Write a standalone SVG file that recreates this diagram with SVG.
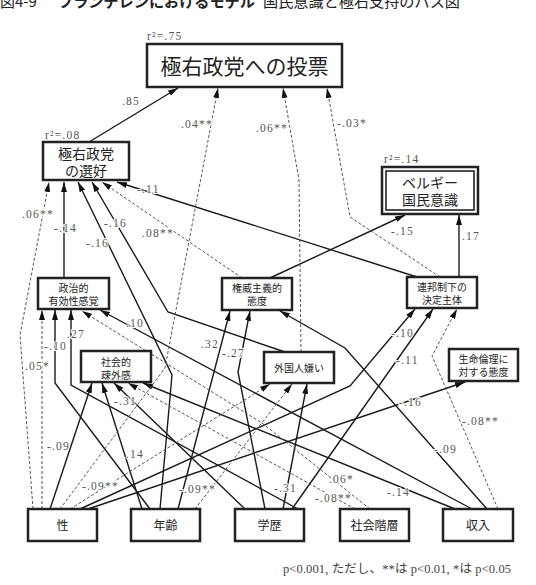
<svg xmlns="http://www.w3.org/2000/svg" width="536" height="585" viewBox="0 0 536 585">
<style>
.bx{fill:#fff;stroke:#222;stroke-width:2.5}
.bi{fill:none;stroke:#222;stroke-width:1.6}
.t{font-family:"Noto Sans CJK JP","Noto Sans",sans-serif;fill:#222;text-anchor:middle}
.s{fill:none;stroke:#1a1a1a;stroke-width:1.4}
.d{fill:none;stroke:#555;stroke-width:1;stroke-dasharray:3 2}
.l{font-family:"Liberation Serif",serif;font-size:11.5px;fill:#555;letter-spacing:1.2px;paint-order:stroke;stroke:#fff;stroke-width:2px}
.r{font-family:"Liberation Serif",serif;font-size:11.5px;fill:#555;letter-spacing:1.2px}
</style>
<defs>
<marker id="ah" viewBox="0 0 10 6" refX="10" refY="3" markerWidth="10" markerHeight="6" markerUnits="userSpaceOnUse" orient="auto"><path d="M0,0 L10,3 L0,6 z" fill="#111"/></marker>
</defs>
<rect width="536" height="585" fill="#fff"/>
<text y="7" font-family="'Noto Sans CJK JP',sans-serif" font-size="15" fill="#222"><tspan x="0">図4-9</tspan><tspan x="58" font-weight="bold" textLength="197" lengthAdjust="spacingAndGlyphs">フランデレンにおけるモデル</tspan><tspan x="263" textLength="197" lengthAdjust="spacingAndGlyphs">国民意識と極右支持のパス図</tspan></text>

<g id="connectors">
<polyline class="s" points="89,142 178,88" marker-end="url(#ah)"/>
<polyline class="s" points="64,278 64,182" marker-end="url(#ah)"/>
<polyline class="s" points="160,509 172,375 78,182" marker-end="url(#ah)"/>
<polyline class="s" points="285,352 168,312 92,182" marker-end="url(#ah)"/>
<polyline class="s" points="417,277 117,182" marker-end="url(#ah)"/>
<polyline class="s" points="270,278 405,215" marker-end="url(#ah)"/>
<polyline class="s" points="459,277 459,215" marker-end="url(#ah)"/>
<polyline class="s" points="150,509 55,383 55,310" marker-end="url(#ah)"/>
<polyline class="s" points="298,509 71,385 71,310" marker-end="url(#ah)"/>
<polyline class="s" points="472,509 100,310" marker-end="url(#ah)"/>
<polyline class="s" points="50,509 92,383" marker-end="url(#ah)"/>
<polyline class="s" points="142,509 102,383" marker-end="url(#ah)"/>
<polyline class="s" points="245,509 114,383" marker-end="url(#ah)"/>
<polyline class="s" points="455,509 143,383" marker-end="url(#ah)"/>
<polyline class="s" points="178,509 230,311" marker-end="url(#ah)"/>
<polyline class="s" points="265,509 238,372 250,311" marker-end="url(#ah)"/>
<polyline class="s" points="487,509 345,348 280,311" marker-end="url(#ah)"/>
<polyline class="s" points="283,509 307,384" marker-end="url(#ah)"/>
<polyline class="s" points="80,509 350,386 415,309" marker-end="url(#ah)"/>
<polyline class="s" points="292,509 433,309" marker-end="url(#ah)"/>
<polyline class="s" points="88,509 465,382" marker-end="url(#ah)"/>
<polyline class="d" points="60,509 165,368 218,88" marker-end="url(#ah)"/>
<polyline class="d" points="301,352 299,180 283,88" marker-end="url(#ah)"/>
<polyline class="d" points="440,277 350,217 327,88" marker-end="url(#ah)"/>
<polyline class="d" points="33,509 20,335 49,182" marker-end="url(#ah)"/>
<polyline class="d" points="242,278 102,182" marker-end="url(#ah)"/>
<polyline class="d" points="42,509 42,310" marker-end="url(#ah)"/>
<polyline class="d" points="370,509 262,423 82,311" marker-end="url(#ah)"/>
<polyline class="d" points="355,509 128,383" marker-end="url(#ah)"/>
<polyline class="d" points="70,509 270,384" marker-end="url(#ah)"/>
<polyline class="d" points="195,509 292,384" marker-end="url(#ah)"/>
<polyline class="d" points="498,509 432,356 457,309" marker-end="url(#ah)"/>
</g>

<g id="labels">
<text class="l" x="122" y="105">.85</text>
<text class="l" x="181" y="128">.04**</text>
<text class="l" x="256" y="132">.06**</text>
<text class="l" x="337" y="127">-.03*</text>
<text class="l" x="137" y="193">-.11</text>
<text class="l" x="22" y="218">.06**</text>
<text class="l" x="54" y="232">-.14</text>
<text class="l" x="104" y="227">-.16</text>
<text class="l" x="86" y="247">-.16</text>
<text class="l" x="142" y="237">.08**</text>
<text class="l" x="391" y="235">-.15</text>
<text class="l" x="462" y="240">.17</text>
<text class="l" x="126" y="327">.10</text>
<text class="l" x="67" y="338">.27</text>
<text class="l" x="44" y="350">-.10</text>
<text class="l" x="25" y="370">.05*</text>
<text class="l" x="201" y="348">.32</text>
<text class="l" x="222" y="357">-.27</text>
<text class="l" x="391" y="337">-.10</text>
<text class="l" x="396" y="364">-.11</text>
<text class="l" x="399" y="406">-.16</text>
<text class="l" x="114" y="405">-.31</text>
<text class="l" x="462" y="425">-.08**</text>
<text class="l" x="47" y="450">-.09</text>
<text class="l" x="126" y="458">.14</text>
<text class="l" x="434" y="453">-.09</text>
<text class="l" x="82" y="490">-.09**</text>
<text class="l" x="179" y="493">-.09**</text>
<text class="l" x="274" y="492">-.31</text>
<text class="l" x="329" y="483">.06*</text>
<text class="l" x="315" y="502">-.08**</text>
<text class="l" x="387" y="496">-.14</text>
</g>

<g id="vote">
<text class="r" x="147" y="40">r²=.75</text>
<rect class="bx" x="147" y="44" width="195" height="43"/>
<text class="t" x="244.5" y="74" font-size="21">極右政党への投票</text>
</g>
<g id="preference">
<text class="r" x="45" y="139">r²=.08</text>
<rect class="bx" x="43" y="142" width="86" height="38"/>
<text class="t" x="86" y="159" font-size="14">極右政党</text>
<text class="t" x="86" y="176" font-size="14">の選好</text>
</g>
<g id="belgian">
<text class="r" x="384" y="163">r²=.14</text>
<rect class="bx" x="382" y="167" width="96" height="47"/>
<rect class="bi" x="386" y="171" width="88" height="39"/>
<text class="t" x="430" y="188" font-size="14">ベルギー</text>
<text class="t" x="430" y="205" font-size="14">国民意識</text>
</g>
<g id="efficacy">
<rect class="bx" x="38" y="278" width="71" height="31"/>
<text class="t" x="73.5" y="292" font-size="10">政治的</text>
<text class="t" x="73.5" y="305" font-size="10">有効性感覚</text>
</g>
<g id="authoritarian">
<rect class="bx" x="222" y="278" width="70" height="32"/>
<text class="t" x="257" y="292" font-size="10">権威主義的</text>
<text class="t" x="257" y="305" font-size="10">態度</text>
</g>
<g id="federal">
<rect class="bx" x="407" y="277" width="70" height="31"/>
<text class="t" x="442" y="291" font-size="10">連邦制下の</text>
<text class="t" x="442" y="304" font-size="10">決定主体</text>
</g>
<g id="alienation">
<rect class="bx" x="81" y="351" width="70" height="31"/>
<text class="t" x="116" y="366" font-size="10">社会的</text>
<text class="t" x="116" y="379" font-size="10">疎外感</text>
</g>
<g id="xenophobia">
<rect class="bx" x="264" y="352" width="70" height="31"/>
<text class="t" x="299" y="372" font-size="10">外国人嫌い</text>
</g>
<g id="bioethics">
<rect class="bx" x="449" y="349" width="69" height="32"/>
<text class="t" x="483.5" y="363" font-size="10">生命倫理に</text>
<text class="t" x="483.5" y="376" font-size="10">対する態度</text>
</g>
<g id="sex">
<rect class="bx" x="28" y="509" width="69" height="32"/>
<text class="t" x="62.5" y="530" font-size="12">性</text>
</g>
<g id="age">
<rect class="bx" x="131" y="509" width="69" height="32"/>
<text class="t" x="165.5" y="530" font-size="12">年齢</text>
</g>
<g id="education">
<rect class="bx" x="235" y="509" width="69" height="32"/>
<text class="t" x="269.5" y="530" font-size="12">学歴</text>
</g>
<g id="class">
<rect class="bx" x="340" y="509" width="69" height="32"/>
<text class="t" x="374.5" y="530" font-size="12">社会階層</text>
</g>
<g id="income">
<rect class="bx" x="443" y="509" width="70" height="32"/>
<text class="t" x="478" y="530" font-size="12">収入</text>
</g>
<text x="283" y="573" font-family="'Liberation Serif','Noto Sans CJK JP',serif" font-size="12.5" fill="#444" textLength="228" lengthAdjust="spacing">p&lt;0.001, ただし、**は p&lt;0.01, *は p&lt;0.05</text>
</svg>
